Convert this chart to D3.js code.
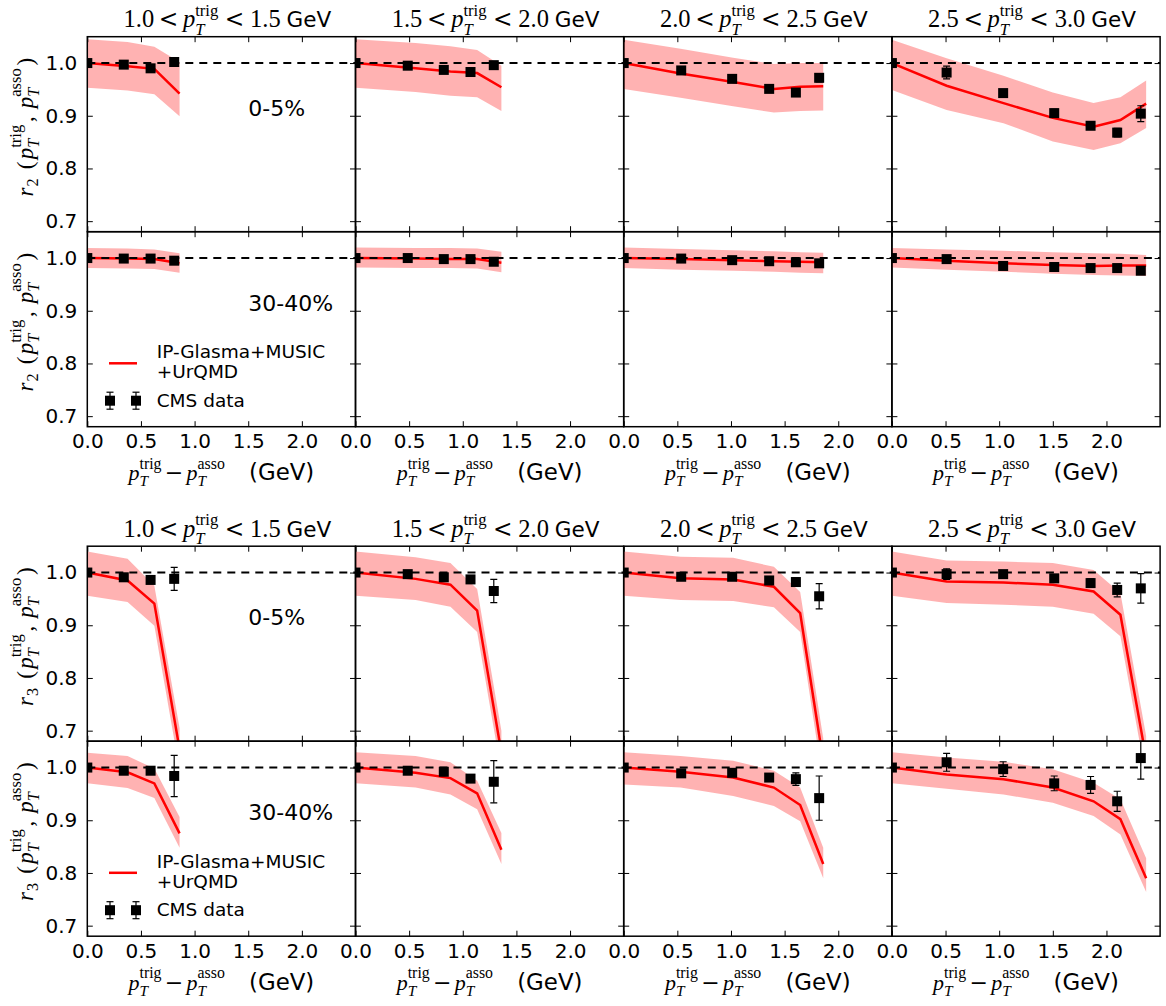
<!DOCTYPE html>
<html>
<head>
<meta charset="utf-8">
<script src="https://cdn.jsdelivr.net/npm/d3@7"></script>
<style>
body { margin: 0; background: #fff; }
svg { display: block; }
</style>
</head>
<body>
<svg width="1166" height="1006"></svg>
<script>
// bins / labels
const trigLow = ['1.0', '1.5', '2.0', '2.5'];
const trigHigh = ['1.5', '2.0', '2.5', '3.0'];
const centralities = ['0-5%', '30-40%'];
const xTicks = [0, 0.5, 1.0, 1.5, 2.0];
const yTicks = [0.7, 0.8, 0.9, 1.0];

// x positions (pT^trig - pT^asso) per column
const modelX = [
    [0, 0.375, 0.625, 0.86],
    [0, 0.56, 0.885, 1.134, 1.36],
    [0, 0.53, 1.02, 1.40, 1.645, 1.86],
    [0, 0.51, 1.04, 1.50, 1.88, 2.13, 2.37]
];
const cmsX = [
    [0, 0.34, 0.59, 0.81],
    [0, 0.487, 0.823, 1.072, 1.289],
    [0, 0.536, 1.011, 1.356, 1.605, 1.822],
    [0, 0.51, 1.037, 1.513, 1.852, 2.10, 2.32]
];

// r2, 0-5%
const r2CentModel = [
    [1.0, 0.994, 0.989, 0.942],
    [1.0, 0.990, 0.984, 0.981, 0.954],
    [1.0, 0.980, 0.964, 0.951, 0.955, 0.956],
    [1.0, 0.957, 0.924, 0.896, 0.879, 0.892, 0.923]
];
const r2CentUpper = [
    [1.045, 1.040, 1.031, 1.002],
    [1.045, 1.038, 1.032, 1.025, 0.995],
    [1.044, 1.027, 1.010, 0.998, 1.000, 1.000],
    [1.044, 1.009, 0.976, 0.944, 0.924, 0.935, 0.967]
];
const r2CentLower = [
    [0.953, 0.948, 0.941, 0.899],
    [0.953, 0.945, 0.938, 0.935, 0.909],
    [0.951, 0.934, 0.918, 0.906, 0.909, 0.910],
    [0.949, 0.911, 0.886, 0.851, 0.835, 0.848, 0.877]
];
const r2CentCms = [
    [1.0, 0.997, 0.990, 1.002],
    [1.0, 0.995, 0.987, 0.983, 0.996],
    [1.0, 0.986, 0.970, 0.951, 0.944, 0.972],
    [1.0, 0.982, 0.943, 0.905, 0.881, 0.868, 0.904]
];
const r2CentErr = [
    [0.003, 0.004, 0.004, 0.004],
    [0.003, 0.004, 0.004, 0.005, 0.005],
    [0.003, 0.004, 0.005, 0.005, 0.005, 0.008],
    [0.003, 0.012, 0.006, 0.007, 0.007, 0.008, 0.015]
];

// r2, 30-40%
const r2PeriModel = [
    [1.0, 0.999, 0.998, 0.990],
    [1.0, 0.999, 0.998, 0.998, 0.991],
    [1.0, 0.998, 0.996, 0.994, 0.993, 0.992],
    [1.0, 0.995, 0.990, 0.987, 0.985, 0.986, 0.986]
];
const r2PeriUpper = [
    [1.019, 1.018, 1.016, 1.009],
    [1.020, 1.019, 1.019, 1.018, 1.012],
    [1.020, 1.017, 1.015, 1.013, 1.011, 1.010],
    [1.019, 1.016, 1.014, 1.011, 1.009, 1.008, 1.006]
];
const r2PeriLower = [
    [0.981, 0.980, 0.979, 0.972],
    [0.982, 0.981, 0.981, 0.980, 0.973],
    [0.981, 0.978, 0.976, 0.974, 0.972, 0.971],
    [0.982, 0.978, 0.974, 0.970, 0.968, 0.967, 0.966]
];
const r2PeriCms = [
    [1.0, 0.999, 0.999, 0.995],
    [1.0, 1.0, 0.998, 0.998, 0.993],
    [1.0, 0.999, 0.996, 0.994, 0.992, 0.990],
    [1.0, 0.998, 0.985, 0.983, 0.981, 0.981, 0.976]
];
const r2PeriErr = [
    [0.003, 0.003, 0.003, 0.003],
    [0.003, 0.003, 0.003, 0.003, 0.003],
    [0.003, 0.003, 0.003, 0.003, 0.003, 0.003],
    [0.003, 0.003, 0.003, 0.003, 0.003, 0.003, 0.003]
];

// r3, 0-5%
const r3CentModel = [
    [1.0, 0.985, 0.941, 0.665],
    [1.0, 0.988, 0.977, 0.928, 0.658],
    [1.0, 0.989, 0.987, 0.973, 0.923, 0.642],
    [1.0, 0.983, 0.981, 0.977, 0.964, 0.920, 0.648]
];
const r3CentUpper = [
    [1.040, 1.026, 0.975, 0.705],
    [1.040, 1.029, 1.018, 0.969, 0.700],
    [1.040, 1.030, 1.028, 1.011, 0.963, 0.685],
    [1.040, 1.023, 1.021, 1.018, 1.005, 0.961, 0.690]
];
const r3CentLower = [
    [0.956, 0.944, 0.899, 0.625],
    [0.956, 0.948, 0.935, 0.887, 0.620],
    [0.956, 0.948, 0.946, 0.934, 0.887, 0.600],
    [0.956, 0.942, 0.939, 0.935, 0.922, 0.879, 0.610]
];
const r3CentCms = [
    [1.0, 0.991, 0.986, 0.988],
    [1.0, 0.997, 0.991, 0.987, 0.965],
    [1.0, 0.992, 0.992, 0.985, 0.982, 0.955],
    [1.0, 0.997, 0.997, 0.989, 0.980, 0.967, 0.970]
];
const r3CentErr = [
    [0.004, 0.005, 0.005, 0.022],
    [0.003, 0.004, 0.005, 0.006, 0.022],
    [0.003, 0.004, 0.004, 0.005, 0.008, 0.024],
    [0.003, 0.010, 0.005, 0.007, 0.008, 0.013, 0.028]
];

// r3, 30-40%
const r3PeriModel = [
    [1.0, 0.991, 0.970, 0.875],
    [1.0, 0.990, 0.980, 0.951, 0.844],
    [1.0, 0.992, 0.981, 0.962, 0.929, 0.817],
    [1.0, 0.987, 0.978, 0.962, 0.936, 0.902, 0.790]
];
const r3PeriUpper = [
    [1.028, 1.022, 0.998, 0.906],
    [1.029, 1.022, 1.010, 0.975, 0.876],
    [1.029, 1.022, 1.013, 0.994, 0.962, 0.848],
    [1.029, 1.019, 1.011, 0.997, 0.971, 0.940, 0.828]
];
const r3PeriLower = [
    [0.970, 0.961, 0.942, 0.848],
    [0.970, 0.962, 0.949, 0.921, 0.817],
    [0.968, 0.962, 0.946, 0.927, 0.898, 0.790],
    [0.970, 0.960, 0.949, 0.933, 0.908, 0.873, 0.764]
];
const r3PeriCms = [
    [1.0, 0.994, 0.994, 0.984],
    [1.0, 0.994, 0.992, 0.979, 0.973],
    [1.0, 0.989, 0.990, 0.981, 0.978, 0.942],
    [1.0, 1.010, 0.997, 0.970, 0.967, 0.936, 1.018]
];
const r3PeriErr = [
    [0.004, 0.005, 0.005, 0.039],
    [0.004, 0.005, 0.005, 0.006, 0.040],
    [0.004, 0.005, 0.005, 0.006, 0.012, 0.042],
    [0.004, 0.017, 0.014, 0.014, 0.016, 0.019, 0.040]
];

const left = 87.3;
const pw = 268.2;
const ph = 195;
const fonts = {
    serif: "'Liberation Serif', 'DejaVu Serif', serif",
    sym: "'DejaVu Serif', serif",
    sans: "'DejaVu Sans', sans-serif"
};

const blocks = [
    {n: '2', top: 36.7, rows: [
        {model: r2CentModel, up: r2CentUpper, lo: r2CentLower, cms: r2CentCms, err: r2CentErr},
        {model: r2PeriModel, up: r2PeriUpper, lo: r2PeriLower, cms: r2PeriCms, err: r2PeriErr}
    ]},
    {n: '3', top: 546.2, rows: [
        {model: r3CentModel, up: r3CentUpper, lo: r3CentLower, cms: r3CentCms, err: r3CentErr},
        {model: r3PeriModel, up: r3PeriUpper, lo: r3PeriLower, cms: r3PeriCms, err: r3PeriErr}
    ]}
];

const svg = d3.select('svg');

const x = d3.scaleLinear().domain([0, 2.5]).range([0, pw]);
const y = d3.scaleLinear().domain([0.68, 1.05]).range([ph, 0]);

// mathtext-like label, centred on 0, built as one <text> with tspans
function mathLabel(sel, parts, size) {
    const tmp = sel.append('text');
    let cx = 0, prevStart = 0, prevEnd = 0;
    const placed = [];
    parts.forEach(function(p) {
        if (p.gap) cx += p.gap * size;
        if (p.t === undefined) return;
        const fs = size * (p.s || 1);
        tmp.attr('font-family', fonts[p.f || 'serif'])
            .attr('font-style', p.it ? 'italic' : 'normal')
            .attr('font-size', fs).text(p.t);
        const w = tmp.node().getComputedTextLength();
        const start = p.stack ? prevStart : cx;
        const end = start + w;
        if (p.stack) {
            cx = Math.max(prevEnd, end);
        } else {
            prevStart = start; prevEnd = end; cx = end;
        }
        placed.push({p: p, x: start, fs: fs});
    });
    tmp.remove();
    const text = sel.append('text').attr('fill', '#000');
    placed.forEach(function(d) {
        text.append('tspan')
            .attr('x', d.x - cx / 2)
            .attr('y', (d.p.dy || 0) * size)
            .attr('font-family', fonts[d.p.f || 'serif'])
            .attr('font-style', d.p.it ? 'italic' : 'normal')
            .attr('font-size', d.fs)
            .text(d.p.t);
    });
    return cx;
}

function pT(sup, s, subDy, supDy) {
    return [
        {t: 'p', it: true},
        {t: 'T', it: true, s: s || 0.7, dy: subDy || 0.28},
        {t: sup, s: s || 0.72, dy: supDy || -0.52, stack: true}
    ];
}

function titleParts(lo, hi) {
    return [{t: lo}, {gap: 0.19}, {t: '<', f: 'sym', s: 0.95}, {gap: 0.19}]
        .concat(pT('trig', 0.68, 0.3, -0.47))
        .concat([{gap: 0.26}, {t: '<', f: 'sym', s: 0.95}, {gap: 0.24}, {t: hi}, {gap: 0.24},
            {t: 'GeV', f: 'sans', s: 0.88}]);
}

function xlabelParts() {
    return pT('trig').concat([{gap: 0.15}, {t: '\u2212', f: 'sym'}, {gap: 0.15}])
        .concat(pT('asso'))
        .concat([{gap: 1.1}, {t: '(GeV)', f: 'sans', s: 1.04}]);
}

function ylabelParts(n) {
    return [{t: 'r', it: true}, {gap: 0.05}, {t: n, s: 0.7, dy: 0.22}, {gap: 0.4}, {t: '('}, {gap: 0.1}]
        .concat(pT('trig'))
        .concat([{gap: 0.12}, {t: ','}, {gap: 0.35}])
        .concat(pT('asso'))
        .concat([{gap: 0.12}, {t: ')'}]);
}

const area = d3.area()
    .x(function(d) { return d[0]; })
    .y0(function(d) { return d[1]; })
    .y1(function(d) { return d[2]; });
const line = d3.line();
let clipId = 0;

function errorBar(sel, cx, y0, y1) {
    sel.append('line').attr('x1', cx).attr('x2', cx).attr('y1', y0).attr('y2', y1);
    sel.append('line').attr('x1', cx - 3.5).attr('x2', cx + 3.5).attr('y1', y0).attr('y2', y0);
    sel.append('line').attr('x1', cx - 3.5).attr('x2', cx + 3.5).attr('y1', y1).attr('y2', y1);
}

blocks.forEach(function(block) {
    block.rows.forEach(function(row, r) {
        const top = block.top + r * ph;
        for (let c = 0; c < 4; c++) {
            const px = left + c * pw;
            const g = svg.append('g').attr('transform', `translate(${px}, ${top})`);
            const id = 'clip' + (clipId++);
            g.append('clipPath').attr('id', id)
                .append('rect').attr('width', pw).attr('height', ph);
            const inner = g.append('g').attr('clip-path', `url(#${id})`);

            const mx = modelX[c];
            inner.append('path')
                .attr('d', area(mx.map(function(v, i) { return [x(v), y(row.lo[c][i]), y(row.up[c][i])]; })))
                .attr('fill', '#ff0000').attr('fill-opacity', 0.3);
            inner.append('path')
                .attr('d', line(mx.map(function(v, i) { return [x(v), y(row.model[c][i])]; })))
                .attr('fill', 'none').attr('stroke', '#ff0000').attr('stroke-width', 2.5);
            inner.append('line')
                .attr('x1', 0).attr('x2', pw).attr('y1', y(1.0)).attr('y2', y(1.0))
                .attr('stroke', '#000').attr('stroke-width', 2).attr('stroke-dasharray', '8,6');

            const pts = cmsX[c].map(function(v, i) { return {x: v, y: row.cms[c][i], e: row.err[c][i]}; });
            const eb = inner.append('g').attr('stroke', '#000').attr('stroke-width', 1.2);
            pts.forEach(function(d) { errorBar(eb, x(d.x), y(d.y - d.e), y(d.y + d.e)); });
            inner.append('g').selectAll('rect').data(pts).enter().append('rect')
                .attr('x', function(d) { return x(d.x) - 5; })
                .attr('y', function(d) { return y(d.y) - 5; })
                .attr('width', 10).attr('height', 10)
                .attr('fill', '#000');

            // ticks on all sides, pointing inward
            g.append('g').attr('transform', `translate(0, ${ph})`)
                .call(d3.axisBottom(x).tickValues(xTicks).tickSizeInner(-5.5).tickSizeOuter(0).tickPadding(7.5)
                    .tickFormat(r === 1 ? d3.format('.1f') : ''));
            g.append('g')
                .call(d3.axisTop(x).tickValues(xTicks).tickSizeInner(-5.5).tickSizeOuter(0).tickFormat(''));
            g.append('g')
                .call(d3.axisLeft(y).tickValues(yTicks).tickSizeInner(-5.5).tickSizeOuter(0).tickPadding(10)
                    .tickFormat(c === 0 ? d3.format('.1f') : ''));
            g.append('g').attr('transform', `translate(${pw}, 0)`)
                .call(d3.axisRight(y).tickValues(yTicks).tickSizeInner(-5.5).tickSizeOuter(0).tickFormat(''));
            g.selectAll('.domain').remove();
            g.selectAll('.tick line').attr('stroke', '#000').attr('stroke-width', 1);
            g.selectAll('.tick text').attr('font-family', fonts.sans).attr('font-size', 20).attr('fill', '#000');
            g.selectAll('.tick text').filter(function() { return this.textContent === ''; }).remove();

            g.append('rect').attr('width', pw).attr('height', ph)
                .attr('fill', 'none').attr('stroke', '#000').attr('stroke-width', 1.5);

            if (c === 0) {
                g.append('text')
                    .attr('x', x(1.5)).attr('y', y(0.9))
                    .attr('font-family', fonts.sans).attr('font-size', 22)
                    .text(centralities[r]);

                const yl = svg.append('g')
                    .attr('transform', `translate(33, ${top + ph / 2 - 7}) rotate(-90)`);
                mathLabel(yl, ylabelParts(block.n), 23);
            }

            if (r === 0) {
                const tl = svg.append('g')
                    .attr('transform', `translate(${px + pw / 2 + 6}, ${top - 9.5})`);
                mathLabel(tl, titleParts(trigLow[c], trigHigh[c]), 24.5);
            } else {
                const xl = svg.append('g')
                    .attr('transform', `translate(${px + pw / 2}, ${top + ph + 53.5})`);
                mathLabel(xl, xlabelParts(), 22);
            }

            if (c === 0 && r === 1) {
                const lg = g.append('g');
                lg.append('line').attr('x1', 21.7).attr('x2', 49.7).attr('y1', 131.6).attr('y2', 131.6)
                    .attr('stroke', '#ff0000').attr('stroke-width', 2.5);
                lg.append('text').attr('x', 69.4).attr('y', 126.6)
                    .attr('font-family', fonts.sans).attr('font-size', 18.5).text('IP-Glasma+MUSIC');
                lg.append('text').attr('x', 69.4).attr('y', 146.6)
                    .attr('font-family', fonts.sans).attr('font-size', 18.5).text('+UrQMD');
                const leb = lg.append('g').attr('stroke', '#000').attr('stroke-width', 1.2);
                [22.7, 48.7].forEach(function(lx) {
                    errorBar(leb, lx, 160.5, 177.5);
                    lg.append('rect').attr('x', lx - 5).attr('y', 164).attr('width', 10).attr('height', 10).attr('fill', '#000');
                });
                lg.append('text').attr('x', 69.4).attr('y', 175)
                    .attr('font-family', fonts.sans).attr('font-size', 18.5).text('CMS data');
            }
        }
    });
});
</script>
</body>
</html>
